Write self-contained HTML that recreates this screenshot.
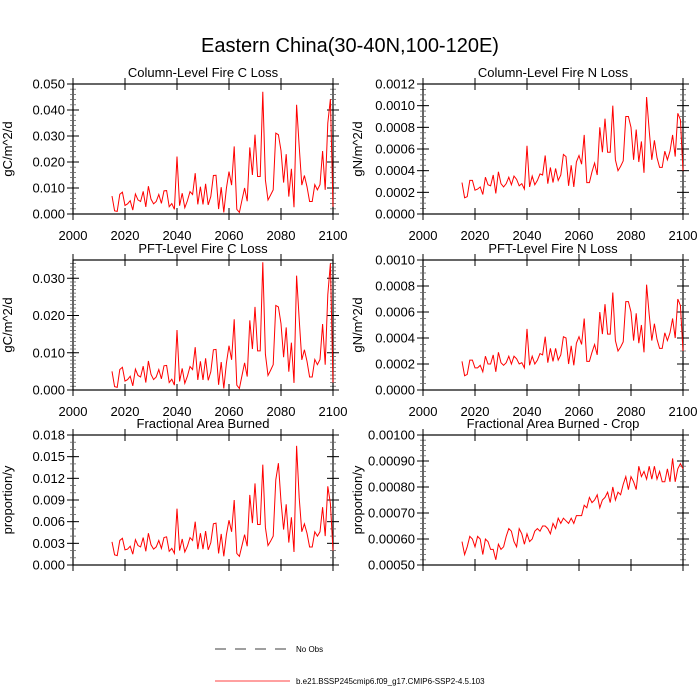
<!DOCTYPE html>
<html><head><meta charset="utf-8"><style>
html,body{margin:0;padding:0;background:#fff;width:700px;height:700px;overflow:hidden}
svg text{font-family:"Liberation Sans",sans-serif;fill:#000}
</style></head><body>
<svg id="chart" width="700" height="700" viewBox="0 0 700 700" xmlns="http://www.w3.org/2000/svg">
<text x="350" y="52" font-size="20" text-anchor="middle">Eastern China(30-40N,100-120E)</text>
<g>
<line x1="215" y1="649" x2="290" y2="649" stroke="#000" stroke-width="0.8" stroke-dasharray="11,9"/>
<text x="296" y="652" font-size="8">No Obs</text>
<line x1="215" y1="681" x2="290" y2="681" stroke="#f00" stroke-width="0.8"/>
<text x="296" y="684" font-size="8">b.e21.BSSP245cmip6.f09_g17.CMIP6-SSP2-4.5.103</text>
</g>
</svg>
<script>
const years = [];
for (let y = 2015; y <= 2100; y++) years.push(y);
const xTicks = [2000, 2020, 2040, 2060, 2080, 2100];
const colC = [0.0069,0.0012,0.001,0.0076,0.0084,0.0033,0.0039,0.0051,0.0015,0.0077,0.0054,0.0048,0.0087,0.0027,0.0107,0.0057,0.0039,0.0048,0.0075,0.0041,0.0089,0.009,0.0028,0.004,0.0018,0.0221,0.0032,0.008,0.0024,0.0051,0.0086,0.0075,0.0157,0.0037,0.0105,0.0037,0.0116,0.0035,0.0067,0.0148,0.0149,0.0019,0.0103,0.0006,0.0099,0.0163,0.0111,0.026,0.0018,0.0006,0.0054,0.01,0.0049,0.0256,0.015,0.0305,0.0144,0.0144,0.047,0.0131,0.0054,0.0073,0.0093,0.0311,0.0305,0.0244,0.0121,0.023,0.0067,0.0174,0.0026,0.042,0.026,0.0111,0.0148,0.0105,0.0048,0.0048,0.0113,0.0093,0.0113,0.0242,0.0093,0.035,0.0442,0.0028];
const colN = [.00029,.00015,.00016,.00031,.00031,.00022,.00023,.00025,.00018,.00034,.00027,.00026,.00036,.00019,.00039,.00028,.00025,.00028,.00034,.00027,.00035,.00032,.00026,.00028,.00023,.00063,.00025,.00035,.00027,.00031,.00037,.00036,.00054,.00028,.00043,.00029,.00042,.00031,.00036,.00055,.00053,.00026,.00045,.00025,.00048,.00054,.00046,.00073,.00029,.00029,.00039,.00047,.00036,.00080,.00057,.00088,.00057,.00057,.00100,.00050,.00040,.00044,.00049,.00090,.00090,.00080,.00050,.00078,.00048,.00067,.00038,.00108,.00077,.00050,.00068,.00052,.00043,.00043,.00058,.00050,.00058,.00073,.00053,.00093,.00087,.00040];
const pftC = [.0050,.0009,.0007,.0055,.0061,.0024,.0028,.0037,.0011,.0056,.0039,.0035,.0064,.0020,.0078,.0042,.0028,.0035,.0055,.0030,.0065,.0066,.0020,.0029,.0013,.0161,.0023,.0058,.0018,.0037,.0063,.0055,.0115,.0027,.0077,.0027,.0085,.0026,.0049,.0108,.0109,.0014,.0075,.0004,.0072,.0119,.0081,.0190,.0013,.0004,.0039,.0073,.0036,.0187,.0110,.0223,.0105,.0105,.0343,.0096,.0039,.0053,.0068,.0227,.0223,.0178,.0088,.0168,.0049,.0127,.0019,.0307,.0190,.0081,.0108,.0077,.0035,.0035,.0082,.0068,.0082,.0177,.0068,.0256,.0340,.0020];
const pftN = [.00022,.00011,.00012,.00023,.00023,.00017,.00017,.00019,.00014,.00026,.00020,.00020,.00027,.00014,.00029,.00021,.00019,.00021,.00026,.00020,.00026,.00024,.00020,.00021,.00017,.00047,.00019,.00026,.00020,.00023,.00028,.00027,.00041,.00021,.00032,.00022,.00032,.00023,.00027,.00041,.00040,.00020,.00034,.00019,.00036,.00041,.00035,.00055,.00022,.00022,.00029,.00035,.00027,.00060,.00043,.00066,.00043,.00043,.00075,.00038,.00030,.00033,.00037,.00068,.00068,.00060,.00038,.00059,.00036,.00050,.00029,.00081,.00058,.00038,.00051,.00039,.00032,.00032,.00044,.00038,.00044,.00055,.00040,.00070,.00065,.00030];
const fracArea = [.0032,.0014,.0013,.0034,.0037,.0021,.0022,.0026,.0015,.0035,.0027,.0025,.0038,.0019,.0044,.0028,.0022,.0025,.0034,.0023,.0038,.0039,.0019,.0023,.0016,.0078,.0020,.0036,.0018,.0026,.0038,.0034,.0060,.0022,.0044,.0022,.0047,.0021,.0031,.0057,.0058,.0016,.0043,.0012,.0042,.0062,.0046,.0090,.0016,.0012,.0027,.0042,.0026,.0097,.0058,.0113,.0056,.0056,.0139,.0052,.0027,.0033,.0040,.0118,.0141,.0088,.0049,.0084,.0031,.0066,.0018,.0165,.0093,.0046,.0057,.0044,.0025,.0025,.0046,.0040,.0046,.0080,.0040,.0109,.0085,.0020];
const fracCrop = [.00059,.00054,.00057,.00061,.0006,.00057,.00061,.0006,.00054,.0006,.00059,.00056,.00056,.00052,.00058,.00056,.00057,.00061,.00064,.00063,.00059,.00057,.00064,.00062,.00058,.00062,.00059,.0006,.00063,.00064,.00063,.00065,.00065,.00064,.00062,.00066,.00064,.00068,.00066,.00068,.00067,.00066,.00068,.00066,.00069,.00069,.00069,.00073,.00072,.00076,.00074,.00075,.00077,.00072,.00075,.00076,.00078,.00074,.0008,.00075,.00078,.00077,.00081,.00084,.00079,.00084,.00082,.00079,.00088,.00084,.00086,.00083,.00088,.00083,.00088,.00083,.00086,.00082,.00082,.00087,.00082,.00091,.00082,.00087,.00089,.00087];
const yTicksTL = [0, 0.01, 0.02, 0.03, 0.04, 0.05];
const yTicksTR = [0, 0.0002, 0.0004, 0.0006, 0.0008, 0.001, 0.0012];
const yTicksML = [0, 0.01, 0.02, 0.03];
const yTicksMR = [0, 0.0002, 0.0004, 0.0006, 0.0008, 0.001];
const yTicksBL = [0, 0.003, 0.006, 0.009, 0.012, 0.015, 0.018];
const yTicksBR = [0.0005, 0.0006, 0.0007, 0.0008, 0.0009, 0.001];

const panels = [
 {name:'column-c-loss', title:'Column-Level Fire C Loss', ytitle:'gC/m^2/d', data:colC, ticks:yTicksTL, ymin:0, ymax:0.05, minor:0.002, dec:3, x:73, y:84, xlab:true},
 {name:'column-n-loss', title:'Column-Level Fire N Loss', ytitle:'gN/m^2/d', data:colN, ticks:yTicksTR, ymin:0, ymax:0.0012, minor:0.00005, dec:4, x:423, y:84, xlab:true},
 {name:'pft-c-loss', title:'PFT-Level Fire C Loss', ytitle:'gC/m^2/d', data:pftC, ticks:yTicksML, ymin:0, ymax:0.0349, minor:0.001, dec:3, x:73, y:260, xlab:true},
 {name:'pft-n-loss', title:'PFT-Level Fire N Loss', ytitle:'gN/m^2/d', data:pftN, ticks:yTicksMR, ymin:0, ymax:0.001, minor:0.00005, dec:4, x:423, y:260, xlab:true},
 {name:'fractional-area-burned', title:'Fractional Area Burned', ytitle:'proportion/y', data:fracArea, ticks:yTicksBL, ymin:0, ymax:0.018, minor:0.001, dec:3, x:73, y:435, xlab:false},
 {name:'fractional-area-burned-crop', title:'Fractional Area Burned - Crop', ytitle:'proportion/y', data:fracCrop, ticks:yTicksBR, ymin:0.0005, ymax:0.001, minor:0.00002, dec:5, x:423, y:435, xlab:false}
];
const W = 260, H = 130;
const svg = document.getElementById('chart');
const NS = 'http://www.w3.org/2000/svg';
function mk(tag, attrs, parent) {
  const e = document.createElementNS(NS, tag);
  for (const k in attrs) e.setAttribute(k, attrs[k]);
  parent.appendChild(e);
  return e;
}
panels.forEach(p => {
  const g = mk('g', {}, svg);
  
  
  const xs = v => p.x + (v - 2000) / 100 * W;
  const ys = v => p.y + H - (v - p.ymin) / (p.ymax - p.ymin) * H;
  const frame = mk('rect', {x:p.x, y:p.y, width:W, height:H, fill:'none', stroke:'#000', 'stroke-width':1.2}, g);
  
  
  const t = mk('text', {x:p.x + W/2, y:p.y - 7, 'font-size':13, 'text-anchor':'middle'}, g);
  t.textContent = p.title;
  
  
  const tx = p.x - 61, ty = p.y + H/2;
  const yt = mk('text', {x:tx, y:ty, 'font-size':13, 'text-anchor':'middle', transform:'rotate(-90 ' + tx + ' ' + ty + ')'}, g);
  yt.textContent = p.ytitle;
  
  
  for (let v = p.ymin; v <= p.ymax + 1e-12; v += p.minor) {
    const yy = ys(v);
    mk('line', {x1:p.x - 3, y1:yy, x2:p.x + 3, y2:yy, stroke:'#666', 'stroke-width':0.8}, g);
    mk('line', {x1:p.x + W - 3, y1:yy, x2:p.x + W + 3, y2:yy, stroke:'#666', 'stroke-width':0.8}, g);
  }
  p.ticks.forEach(v => {
    const yy = ys(v);
    mk('line', {x1:p.x - 6, y1:yy, x2:p.x + 6, y2:yy, stroke:'#000', 'stroke-width':1}, g);
    mk('line', {x1:p.x + W - 6, y1:yy, x2:p.x + W + 6, y2:yy, stroke:'#000', 'stroke-width':1}, g);
    const l = mk('text', {x:p.x - 8, y:yy + 4.5, 'font-size':13, 'text-anchor':'end'}, g);
    l.textContent = v.toFixed(p.dec);
    
    
  });
  xTicks.forEach(v => {
    const xx = xs(v);
    mk('line', {x1:xx, y1:p.y + H - 6, x2:xx, y2:p.y + H + 6, stroke:'#000', 'stroke-width':1}, g);
    mk('line', {x1:xx, y1:p.y - 6, x2:xx, y2:p.y + 6, stroke:'#000', 'stroke-width':1}, g);
    if (p.xlab) {
      const l = mk('text', {x:xx, y:p.y + H + 26, 'font-size':13, 'text-anchor':'middle'}, g);
      l.textContent = v;
      
      
    }
  });
  const pts = p.data.map((v, i) => xs(years[i]).toFixed(2) + ',' + ys(v).toFixed(2)).join(' ');
  const line = mk('polyline', {points:pts, fill:'none', stroke:'#f00', 'stroke-width':1}, g);
  
  
});
</script>
</body></html>
